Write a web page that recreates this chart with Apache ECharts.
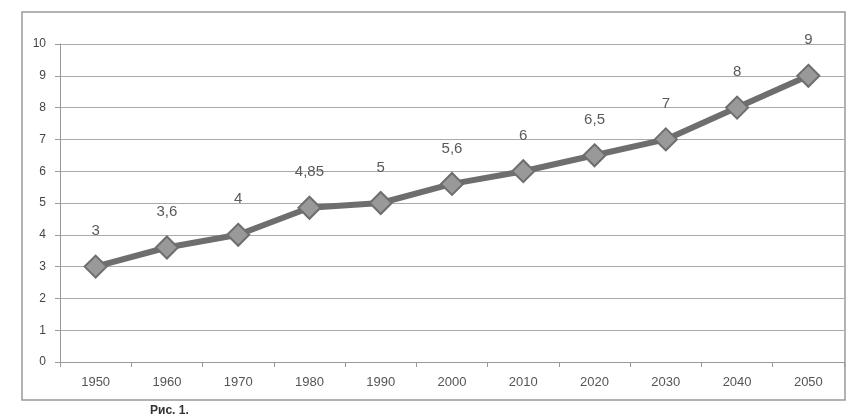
<!DOCTYPE html>
<html>
<head>
<meta charset="utf-8">
<script src="https://cdn.jsdelivr.net/npm/echarts@6/dist/echarts.min.js"></script>
<style>html,body{margin:0;padding:0;background:#fff;}#c{width:852px;height:418px;}</style>
</head>
<body>
<div id="c"></div>
<script>
var years = ['1950','1960','1970','1980','1990','2000','2010','2020','2030','2040','2050'];
var values = [3, 3.6, 4, 4.85, 5, 5.6, 6, 6.5, 7, 8, 9];
var labels = ['3','3,6','4','4,85','5','5,6','6','6,5','7','8','9'];
var yTicks = [0,1,2,3,4,5,6,7,8,9,10];

var chart = echarts.init(document.getElementById('c'));
chart.setOption({
  animation: false,
  backgroundColor: '#fff',
  textStyle: {fontFamily: 'Liberation Sans'},
  graphic: [
    {type:'rect', shape:{x:22,y:12,width:823,height:388}, style:{fill:'none', stroke:'#999', lineWidth:1.5}, z:-1},
    {type:'text', left:150, top:405, style:{text:'Рис. 1.', fill:'#333', font:'bold 12px "Liberation Sans"'}}
  ],
  grid: {left: 60, right: 8, top: 44, bottom: 56},
  xAxis: {
    type: 'category',
    data: years,
    boundaryGap: true,
    axisLine: {lineStyle: {color: '#999'}},
    axisTick: {show: true, lineStyle: {color: '#999'}},
    axisLabel: {color: '#555', fontSize: 13, margin: 14}
  },
  yAxis: {
    type: 'value',
    min: 0, max: 10, interval: 1,
    axisLine: {show: true, lineStyle: {color: '#999'}},
    axisTick: {show: true, lineStyle: {color: '#999'}},
    axisLabel: {color: '#444', fontSize: 12, margin: 14, formatter: function(v){ return yTicks.indexOf(v) >= 0 ? String(v) : ''; }},
    splitLine: {lineStyle: {color: '#aaa', width: 1.2}}
  },
  series: [{
    type: 'line',
    data: values,
    symbol: 'diamond',
    symbolSize: 22,
    lineStyle: {color: '#6e6e6e', width: 6},
    itemStyle: {color: '#999', borderColor: '#6e6e6e', borderWidth: 2},
    label: {
      show: true,
      position: 'top',
      distance: 16,
      color: '#5a5a5a',
      fontSize: 15,
      formatter: function(p){ return labels[p.dataIndex]; }
    }
  }]
});
</script>
</body>
</html>
